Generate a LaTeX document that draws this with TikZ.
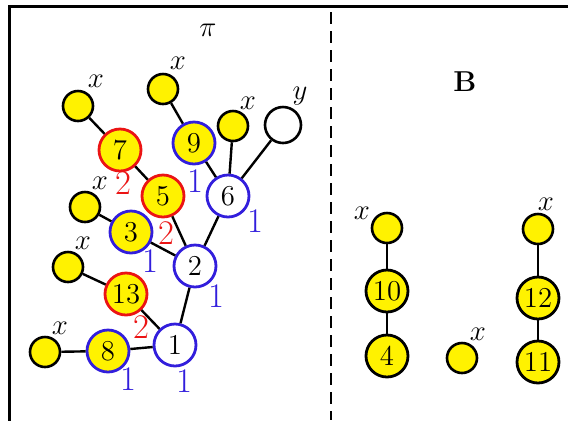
\documentclass[tikz,border=0pt]{standalone}
\usepackage{tikz}
\usetikzlibrary{positioning}

\definecolor{nodeyellow}{RGB}{255,242,0}
\definecolor{wred}{RGB}{235,20,20}
\definecolor{wblue}{RGB}{50,30,220}

\begin{document}
\begin{tikzpicture}[
    x=0.5pt, y=-0.5pt,
    font=\Large,
    leaf/.style={
        circle, draw=black, line width=1.3pt, fill=nodeyellow,
        minimum size=15pt, inner sep=0pt
    },
    vert/.style={
        circle, line width=1.4pt, fill=nodeyellow,
        minimum size=21pt, inner sep=0pt
    },
    redv/.style={vert, draw=wred},
    bluev/.style={vert, draw=wblue},
    whitev/.style={vert, draw=wblue, fill=white},
    blackv/.style={vert, draw=black},
    wr/.style={text=wred, font=\LARGE, inner sep=1pt},
    wb/.style={text=wblue, font=\LARGE, inner sep=1pt},
    xl/.style={inner sep=1pt},
    edge/.style={draw=black, line width=1.2pt}
]
\useasboundingbox (0,0) rectangle (568,420);
\clip (0,0) rectangle (568,420);

% frame and separator
\draw[line width=1.5pt] (9,430) -- (9,6) -- (580,6);
\draw[line width=1.1pt, dash pattern=on 6pt off 3.5pt] (331,12) -- (331,420);

\node (pi) at (208,30) {$\pi$};
\node (bset) at (465,82) {$\mathbf{B}$};

% Tree pi
\node[whitev] (n1) at (175,345) {1};
\node[whitev] (n2) at (195,266) {2};
\node[whitev] (n6) at (228,196) {6};
\node[bluev] (n8) at (108,351) {8};
\node[redv] (n13) at (126,294) {13};
\node[bluev] (n3) at (131,232) {3};
\node[redv] (n5) at (163,196) {5};
\node[redv] (n7) at (120,150) {7};
\node[bluev] (n9) at (194,143) {9};
\node[leaf, minimum size=18pt, fill=white] (ny) at (283,125) {};

\node[leaf] (l8) at (45,352) {};
\node[leaf] (l13) at (68,267) {};
\node[leaf] (l3) at (85,207) {};
\node[leaf] (l7) at (78,106) {};
\node[leaf] (l9) at (163,89) {};
\node[leaf] (l6) at (233,126) {};

% weights
\node[wb] (w1) at (184,381) {1};
\node[wb] (w8) at (128,379) {1};
\node[wr] (w13) at (141,327) {2};
\node[wb] (w2) at (216,296) {1};
\node[wb] (w3) at (150,261) {1};
\node[wr] (w5) at (166,233) {2};
\node[wb] (w6) at (255,221) {1};
\node[wr] (w7) at (123,183) {2};
\node[wb] (w9) at (195,181) {1};

% leaf labels
\node[xl] (x8) at (60,328) {$x$};
\node[xl] (x13) at (83,243) {$x$};
\node[xl] (x3) at (100,183) {$x$};
\node[xl] (x7) at (96,81) {$x$};
\node[xl] (x9) at (178,63) {$x$};
\node[xl] (x6) at (248,103) {$x$};
\node[xl] (xy) at (300,96) {$y$};

\draw[edge] (n1) -- (n2);
\draw[edge] (n2) -- (n6);
\draw[edge] (n1) -- (n8);
\draw[edge] (n1) -- (n13);
\draw[edge] (n2) -- (n3);
\draw[edge] (n2) -- (n5);
\draw[edge] (n5) -- (n7);
\draw[edge] (n6) -- (n9);
\draw[edge] (n6) -- (l6);
\draw[edge] (n6) -- (ny);
\draw[edge] (n8) -- (l8);
\draw[edge] (n13) -- (l13);
\draw[edge] (n3) -- (l3);
\draw[edge] (n7) -- (l7);
\draw[edge] (n9) -- (l9);

% Set B
\node[leaf] (la) at (387,228) {};
\node[blackv] (n10) at (387,291) {10};
\node[blackv] (n4) at (387,356) {4};
\node[leaf] (lb) at (462,358) {};
\node[leaf] (lc) at (538,229) {};
\node[blackv] (n12) at (538,298) {12};
\node[blackv] (n11) at (538,362) {11};

\node[xl] (xa) at (362,213) {$x$};
\node[xl] (xb) at (478,334) {$x$};
\node[xl] (xc) at (546,204) {$x$};

\draw[edge] (la) -- (n10);
\draw[edge] (n10) -- (n4);
\draw[edge] (lc) -- (n12);
\draw[edge] (n12) -- (n11);

\end{tikzpicture}
\end{document}
